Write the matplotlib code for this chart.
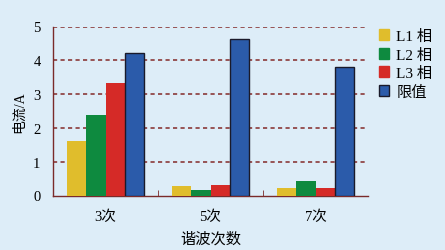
import numpy as np
import matplotlib
matplotlib.use('Agg')
import matplotlib.pyplot as plt
from matplotlib.patches import Patch

plt.rcParams['font.family'] = ['Liberation Serif', 'Noto Sans CJK SC']

# ──── Data ─────────────────────────────────────────────────────
categories = ['3次', '5次', '7次']
series_names = ['L1 相', 'L2 相', 'L3 相', '限值']
l1 = [1.60, 0.29, 0.23]
l2 = [2.37, 0.17, 0.43]
l3 = [3.33, 0.32, 0.23]
limit = [4.22, 4.62, 3.80]
yticks = [0, 1, 2, 3, 4, 5]

BG = '#ddedf8'
AXC = '#7a2a2a'
colors = ['#e0bd2c', '#0e8a3f', '#d52a27', '#2b5baa']

fig = plt.figure(figsize=(4.45, 2.51), dpi=100, facecolor=BG)
ax = fig.add_axes([53 / 445, 1 - 196.5 / 251, 315 / 445, 169 / 251])
ax.set_facecolor(BG)

x = np.arange(len(categories))
w = 0.183
for i, (vals, c) in enumerate(zip([l1, l2, l3, limit], colors)):
    edge = '#1a1a2a' if i == 3 else 'none'
    ax.bar(x + (i - 1.5) * w, vals, w, color=c, edgecolor=edge,
           linewidth=1.0 if i == 3 else 0, zorder=3)

ax.set_xlim(-0.5, 2.5)
ax.set_ylim(0, 5)
ax.set_yticks(yticks)
ax.set_yticklabels([str(t) for t in yticks], fontsize=10.5)
for t in yticks[1:]:
    ax.axhline(t, color='#8b3a3a', lw=1.2, ls=(0, (2.5, 2)), zorder=1)

ax.set_xticks(x)
ax.set_xticklabels(categories, fontsize=10.5)
ax.set_xticks([0.5, 1.5], minor=True)
ax.tick_params(axis='x', which='major', length=0, pad=10)
ax.tick_params(axis='x', which='minor', length=4, direction='in', color=AXC)
ax.tick_params(axis='y', length=0, pad=9)

for s in ['top', 'right']:
    ax.spines[s].set_visible(False)
for s in ['left', 'bottom']:
    ax.spines[s].set_color(AXC)
    ax.spines[s].set_linewidth(1.0)

ax.set_ylabel('电流/A', fontsize=10, labelpad=5)
ax.set_xlabel('谐波次数', fontsize=11, labelpad=6)

handles = [Patch(facecolor=c, edgecolor=('#1a1a2a' if i == 3 else c), lw=1.0)
           for i, c in enumerate(colors)]
leg = ax.legend(handles, series_names, loc='upper left',
                bbox_to_anchor=(1.0, 1.05), frameon=False, fontsize=11,
                handlelength=0.7, handleheight=0.7, handletextpad=0.45,
                labelspacing=0.3, borderaxespad=0.3)

fig.savefig('out.png', dpi=100, facecolor=BG)
